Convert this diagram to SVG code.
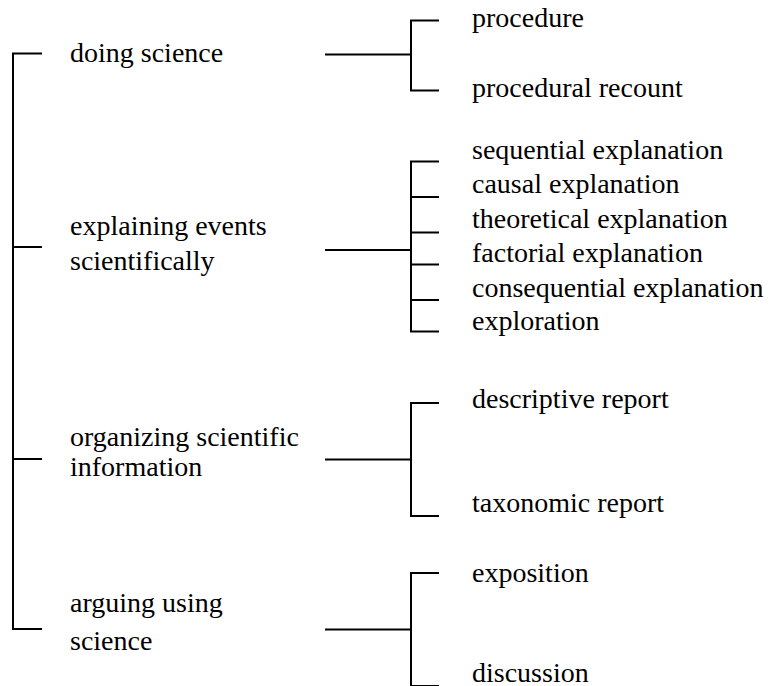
<svg xmlns="http://www.w3.org/2000/svg" width="770" height="686" viewBox="0 0 770 686">
<style>
.t text{font-size:28px;fill:#000}
.c{fill:none;stroke:#000;stroke-width:2}
</style>
<rect width="770" height="686" fill="#fff"/>
<g id="connectors">
<path class="c" d="M42,53.5H13V629H42M13,247H42M13,459H42"/>
<path class="c" d="M325,54.5H411M439,20.5H411V90.5H439"/>
<path class="c" d="M325,250H411M439,161.5H411V331.5H439M411,197H439M411,232.5H439M411,264.5H439M411,300H439"/>
<path class="c" d="M325,459.5H411M439,403H411V516H439"/>
<path class="c" d="M325,629.5H411M439,573H411V686H439"/>
</g>
<g class="t" font-family="Liberation Serif, DejaVu Serif, serif">
<g id="doing"><text x="70" y="62">doing science</text></g>
<g id="explaining"><text x="70" y="235">explaining events</text><text x="70" y="270">scientifically</text></g>
<g id="organizing"><text x="70" y="446">organizing scientific</text><text x="70" y="476">information</text></g>
<g id="arguing"><text x="70" y="612">arguing using</text><text x="70" y="650">science</text></g>
<g id="procedure"><text x="472" y="27">procedure</text></g>
<g id="procedural-recount"><text x="472" y="97">procedural recount</text></g>
<g id="sequential"><text x="472" y="159">sequential explanation</text></g>
<g id="causal"><text x="472" y="193">causal explanation</text></g>
<g id="theoretical"><text x="472" y="228">theoretical explanation</text></g>
<g id="factorial"><text x="472" y="262">factorial explanation</text></g>
<g id="consequential"><text x="472" y="297">consequential explanation</text></g>
<g id="exploration"><text x="472" y="330">exploration</text></g>
<g id="descriptive"><text x="472" y="408">descriptive report</text></g>
<g id="taxonomic"><text x="472" y="512">taxonomic report</text></g>
<g id="exposition"><text x="472" y="582">exposition</text></g>
<g id="discussion"><text x="472" y="682">discussion</text></g>
</g>
</svg>
